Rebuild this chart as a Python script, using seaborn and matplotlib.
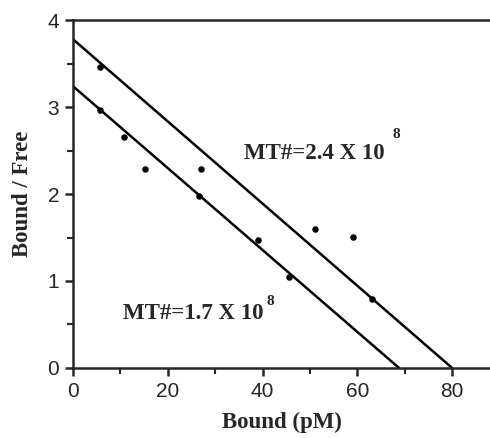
import numpy as np
import pandas as pd
import seaborn as sns
import matplotlib.pyplot as plt
from matplotlib.ticker import MultipleLocator

# data
bound = [5.7, 5.7, 10.7, 15.1, 27.1, 26.5, 39.1, 45.6, 51.0, 59.0, 63.2]
ratio = [3.46, 2.97, 2.66, 2.29, 2.29, 1.98, 1.47, 1.05, 1.60, 1.51, 0.79]

# fitted lines (x intercept, y intercept)
line_names = ["MT#=2.4 X 10", "MT#=1.7 X 10"]
x_ints = [80.0, 68.8]
y_ints = [3.78, 3.24]

sns.set_theme(style="ticks")
plt.rcParams["font.family"] = ["Liberation Sans", "DejaVu Sans"]

fig = plt.figure(figsize=(4.9, 4.38), dpi=100)
ax = fig.add_axes([0.149, 0.160, 0.851, 0.794])

df = pd.DataFrame({"bound": bound, "ratio": ratio})
sns.scatterplot(data=df, x="bound", y="ratio", color="black", s=22,
                edgecolor="black", linewidth=0, ax=ax, zorder=3)

for xi, yi in zip(x_ints, y_ints):
    lines = pd.DataFrame({"x": [0, xi], "y": [yi, 0]})
    sns.lineplot(data=lines, x="x", y="y", color="black", lw=1.8, ax=ax)

ax.set_xlim(0, 88)
ax.set_ylim(0, 4)
ax.xaxis.set_major_locator(MultipleLocator(20))
ax.xaxis.set_minor_locator(MultipleLocator(10))
ax.yaxis.set_major_locator(MultipleLocator(1))
ax.yaxis.set_minor_locator(MultipleLocator(0.5))
ax.tick_params(which="major", length=6, width=1.8, labelsize=15, direction="out", pad=4)
ax.tick_params(which="minor", length=4, width=1.5, direction="out")
for side in ["left", "bottom", "top"]:
    ax.spines[side].set_linewidth(1.8)
ax.spines["right"].set_visible(False)

serif = ["Liberation Serif", "DejaVu Serif"]
ax.set_xlabel("Bound (pM)", family=serif, fontweight="bold", fontsize=16.5, labelpad=8)
ax.set_ylabel("Bound / Free", family=serif, fontweight="bold", fontsize=16.5, labelpad=10)

ax.text(36.1, 2.47, line_names[0], family=serif, fontweight="bold", fontsize=16.5, va="center")
ax.text(67.4, 2.68, "8", family=serif, fontweight="bold", fontsize=11, va="center")
ax.text(10.5, 0.63, line_names[1], family=serif, fontweight="bold", fontsize=16.5, va="center")
ax.text(40.8, 0.76, "8", family=serif, fontweight="bold", fontsize=11, va="center")

fig.savefig("out.png", dpi=100)
